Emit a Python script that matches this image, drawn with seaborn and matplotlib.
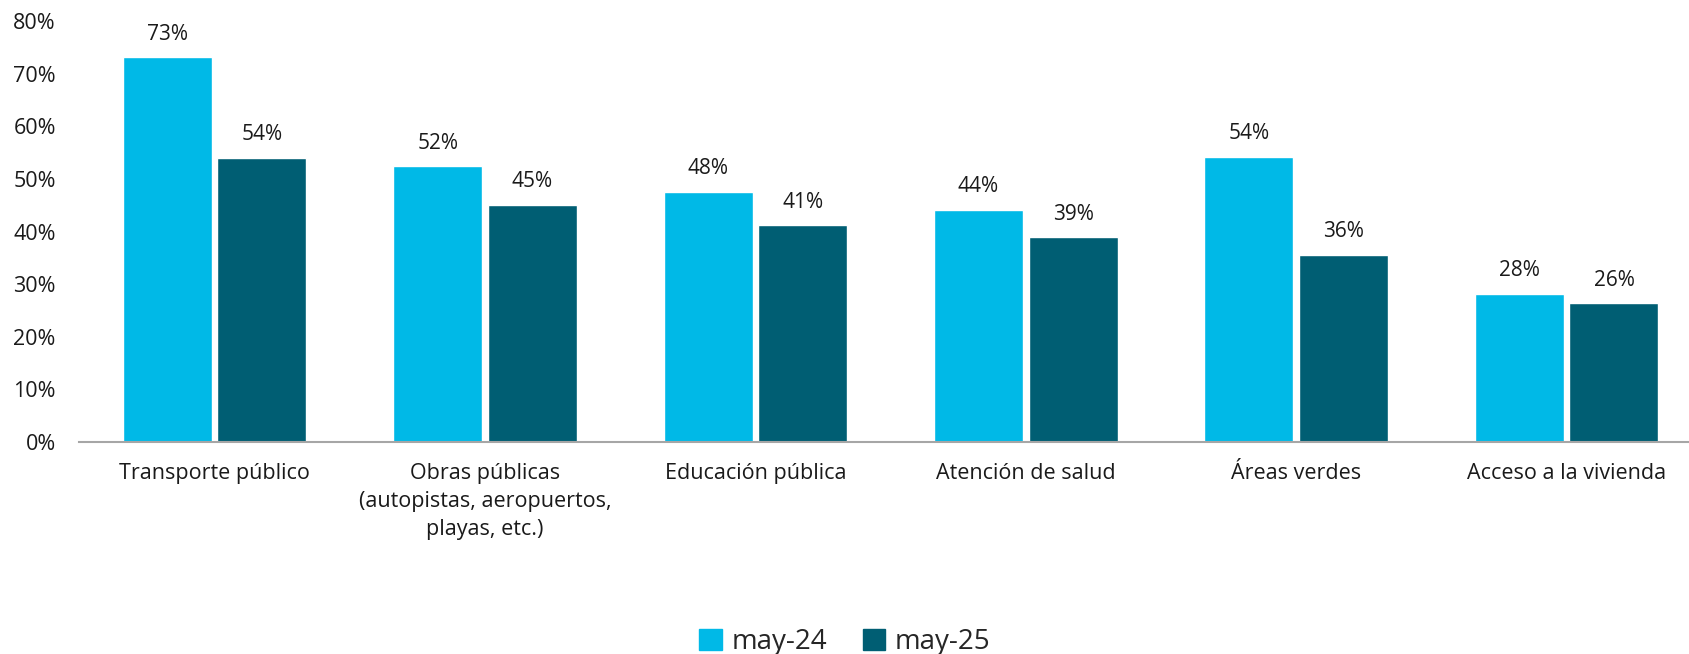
import pandas as pd
import matplotlib.pyplot as plt
import seaborn as sns
from matplotlib.ticker import PercentFormatter

categorias = ["Transporte público",
              "Obras públicas\n(autopistas, aeropuertos,\nplayas, etc.)",
              "Educación pública",
              "Atención de salud",
              "Áreas verdes",
              "Acceso a la vivienda"]
may24 = [73.1, 52.4, 47.6, 44.1, 54.2, 28.2]
may25 = [54.0, 45.1, 41.2, 38.9, 35.6, 26.4]
series = ["may-24", "may-25"]
colores = ["#00B9E7", "#005E73"]

df = pd.DataFrame({
    "categoria": categorias * 2,
    "valor": may24 + may25,
    "serie": [series[0]] * len(categorias) + [series[1]] * len(categorias),
})

sns.set_style("white")
plt.rcParams["font.family"] = ["Open Sans", "DejaVu Sans"]

fig = plt.figure(figsize=(16.9, 6.54), dpi=100)
ax = fig.add_axes([0.047, 0.324, 0.952, 0.644])

sns.barplot(data=df, x="categoria", y="valor", hue="serie", order=categorias,
            hue_order=series, palette=colores, width=0.7, gap=0.06,
            saturation=1, ax=ax)

for cont in ax.containers:
    ax.bar_label(cont, fmt="%.0f%%", padding=9, fontsize=15, color="#1a1a1a")

ax.set_ylim(0, 80)
ax.set_xlim(-0.5, 5.45)
ax.set_yticks(range(0, 81, 10))
ax.yaxis.set_major_formatter(PercentFormatter(decimals=0))
ax.set_xlabel("")
ax.set_ylabel("")
ax.tick_params(axis="y", length=0, pad=17, labelsize=15.5, labelcolor="#1a1a1a")
ax.tick_params(axis="x", length=0, pad=15, labelsize=15.5, labelcolor="#1a1a1a")
for lbl in ax.get_xticklabels():
    lbl.set_linespacing(1.45)

for s in ["top", "right", "left"]:
    ax.spines[s].set_visible(False)
ax.spines["bottom"].set_color("#A6A6A6")
ax.spines["bottom"].set_linewidth(1.5)

ax.legend_.remove()
handles = [plt.Rectangle((0, 0), 1, 1, color=c) for c in colores]
fig.legend(handles, series, loc="center", bbox_to_anchor=(0.5, 0.018),
           ncol=2, frameon=False, fontsize=20, handlelength=0.8,
           handleheight=0.8, handletextpad=0.35, columnspacing=1.3)

fig.savefig("out.png", dpi=100)
